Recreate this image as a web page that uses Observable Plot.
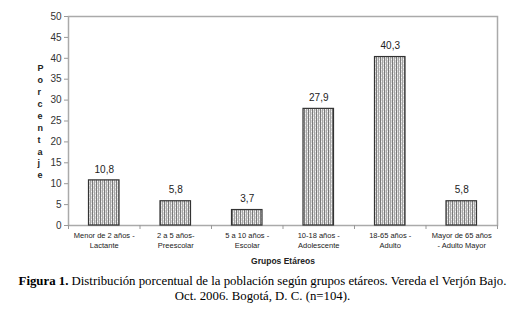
<!DOCTYPE html>
<html>
<head>
<meta charset="utf-8">
<script src="https://cdn.jsdelivr.net/npm/d3@7"></script>
<script src="https://cdn.jsdelivr.net/npm/@observablehq/plot@0.6"></script>
<style>
  body { margin: 0; background: #fff; width: 525px; }
  #caption { font-family: "Liberation Serif", "Times New Roman", serif; font-size: 12.8px; line-height: 15px; text-align: center; color: #000; width: 525px; }
</style>
</head>
<body>
<div id="chart"></div>
<div id="caption"><b>Figura 1.</b> Distribución porcentual de la población según grupos etáreos. Vereda el Verjón Bajo.<br>Oct. 2006. Bogotá, D. C. (n=104).</div>
<script>
const categories = [
  "Menor de 2 años -\nLactante",
  "2 a 5 años-\nPreescolar",
  "5 a 10 años -\nEscolar",
  "10-18 años -\nAdolescente",
  "18-65 años -\nAdulto",
  "Mayor de 65 años\n- Adulto Mayor"
];
const values = [10.8, 5.8, 3.7, 27.9, 40.3, 5.8];
const yTicks = [0, 5, 10, 15, 20, 25, 30, 35, 40, 45, 50];
const yLabel = "Porcentaje";
const xLabel = "Grupos Etáreos";

const data = categories.map((c, i) => ({i, c, v: values[i], label: values[i].toFixed(1).replace(".", ",")}));
const bounds = d3.range(categories.length + 1);

const plot = Plot.plot({
  width: 525,
  height: 274,
  marginLeft: 68,
  marginRight: 28,
  marginTop: 16,
  marginBottom: 49,
  style: {fontFamily: "'Liberation Sans', Arial, sans-serif", background: "#fff", color: "#222"},
  x: {type: "linear", domain: [0, categories.length], axis: null},
  y: {domain: [0, 50], axis: null},
  marks: [
    Plot.frame({stroke: "#aaa", strokeWidth: 1.5}),
    Plot.axisY({ticks: yTicks, tickSize: 4, tickPadding: 3, fontSize: 10, stroke: "#999", label: null, color: "#333"}),
    Plot.ruleX(bounds, {x: d => d, y1: 0, y2: 0, insetBottom: -4, stroke: "#999"}),
    Plot.rectY(data, {x1: "i", x2: d => d.i + 1, y: "v", insetLeft: 20.5, insetRight: 20.5, fill: "url(#hatch)", stroke: "#333", strokeWidth: 1.2}),
    Plot.text(data, {x: d => d.i + 0.5, y: "v", text: "label", dy: -11, fontSize: 10, fill: "#222"}),
    Plot.text(data, {x: d => d.i + 0.5, y: 0, text: "c", lineAnchor: "top", dy: 5, fontSize: 7.5, lineHeight: 1.35, fill: "#222"}),
    Plot.text([xLabel], {frameAnchor: "bottom", dy: 38, fontSize: 8.5, fontWeight: "bold", fill: "#222"}),
    Plot.text([yLabel.split("").join("\n")], {frameAnchor: "left", dx: -31, fontSize: 9, fontWeight: "bold", lineHeight: 1.32, fill: "#222"})
  ]
});

const defs = d3.select(plot).insert("defs", ":first-child");
const pat = defs.append("pattern").attr("id", "hatch").attr("patternUnits", "userSpaceOnUse").attr("width", 4).attr("height", 4);
pat.append("rect").attr("width", 4).attr("height", 4).attr("fill", "#d8d8d8");
pat.append("rect").attr("x", 0).attr("width", 1).attr("height", 4).attr("fill", "#7a7a7a");
pat.append("rect").attr("x", 2).attr("width", 1).attr("height", 4).attr("fill", "#a4a4a4");
pat.append("rect").attr("x", 1).attr("y", 1).attr("width", 1).attr("height", 1).attr("fill", "#f6f6f6");
pat.append("rect").attr("x", 3).attr("y", 3).attr("width", 1).attr("height", 1).attr("fill", "#f6f6f6");

document.getElementById("chart").appendChild(plot);
</script>
</body>
</html>
